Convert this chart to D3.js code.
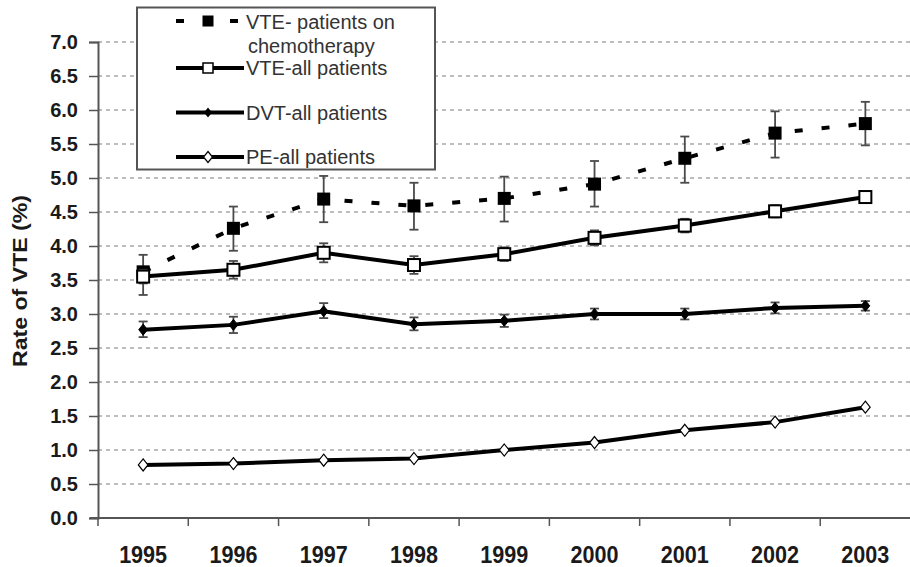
<!DOCTYPE html>
<html>
<head>
<meta charset="utf-8">
<script src="https://cdn.jsdelivr.net/npm/d3@7/dist/d3.min.js"></script>
<style>
  html, body { margin: 0; padding: 0; background: #fff; }
  svg { display: block; font-family: "Liberation Sans", Arial, sans-serif; }
</style>
</head>
<body>
<svg id="chart" width="910" height="567"></svg>
<script>
// ---------- data ----------
const years = ["1995","1996","1997","1998","1999","2000","2001","2002","2003"];
const yTicks = [0,0.5,1,1.5,2,2.5,3,3.5,4,4.5,5,5.5,6,6.5,7];

const chemo   = [3.62, 4.26, 4.69, 4.59, 4.70, 4.91, 5.29, 5.66, 5.80];
const chemoLo = [3.28, 3.93, 4.35, 4.24, 4.36, 4.58, 4.93, 5.30, 5.48];
const chemoHi = [3.87, 4.58, 5.03, 4.93, 5.02, 5.25, 5.61, 5.98, 6.12];

const vteAll   = [3.55, 3.65, 3.90, 3.72, 3.88, 4.12, 4.30, 4.51, 4.72];
const vteAllLo = [3.45, 3.52, 3.76, 3.59, 3.78, 4.01, 4.20, 4.42, 4.64];
const vteAllHi = [3.65, 3.78, 4.04, 3.85, 3.98, 4.23, 4.40, 4.60, 4.80];

const dvt   = [2.77, 2.84, 3.04, 2.85, 2.90, 3.00, 3.00, 3.09, 3.12];
const dvtLo = [2.66, 2.72, 2.94, 2.76, 2.81, 2.92, 2.92, 3.01, 3.05];
const dvtHi = [2.89, 2.96, 3.16, 2.95, 2.99, 3.08, 3.08, 3.17, 3.19];

const pe = [0.78, 0.80, 0.85, 0.875, 1.00, 1.11, 1.29, 1.41, 1.63];

const legendLabels = [["VTE- patients on", "chemotherapy"], ["VTE-all patients"], ["DVT-all patients"], ["PE-all patients"]];
const yTitle = "Rate of VTE (%)";

// ---------- layout ----------
const svg = d3.select("#chart");
const plotL = 98, plotR = 910.5, plotT = 42, plotB = 518;

const x = d3.scaleBand().domain(years).range([plotL, plotR]).padding(0);
const cx = d => x(d) + x.bandwidth() / 2;
const y = d3.scaleLinear().domain([0, 7]).range([plotB, plotT]);

// gridlines
svg.append("g").selectAll("line")
  .data(yTicks.filter(t => t > 0))
  .join("line")
  .attr("x1", plotL).attr("x2", 910)
  .attr("y1", d => y(d)).attr("y2", d => y(d))
  .attr("stroke", "#a8a8a8").attr("stroke-width", 1.5)
  .attr("stroke-dasharray", "4,4");

// y axis
const yAxis = d3.axisLeft(y).tickValues(yTicks).tickFormat(d3.format(".1f")).tickSize(9).tickPadding(11);
const gy = svg.append("g").attr("transform", `translate(${plotL},0)`).call(yAxis);
gy.select(".domain").attr("stroke", "#555").attr("stroke-width", 2);
gy.selectAll(".tick line").attr("stroke", "#555").attr("stroke-width", 1.5);
gy.selectAll(".tick text")
  .attr("font-size", 20).attr("font-weight", "bold").attr("fill", "#1a1a1a")
  .attr("font-family", "'Liberation Sans', Arial, sans-serif");

// x axis
svg.append("line").attr("x1", plotL - 8).attr("x2", 910).attr("y1", plotB).attr("y2", plotB)
  .attr("stroke", "#555").attr("stroke-width", 2);
svg.append("g").selectAll("line")
  .data(years)
  .join("line")
  .attr("x1", d => x(d)).attr("x2", d => x(d))
  .attr("y1", plotB).attr("y2", plotB + 8)
  .attr("stroke", "#555").attr("stroke-width", 1.5);
svg.append("g").selectAll("text")
  .data(years)
  .join("text")
  .attr("x", d => cx(d)).attr("y", 563)
  .attr("text-anchor", "middle")
  .attr("font-size", 23).attr("font-weight", "bold").attr("fill", "#1a1a1a")
  .attr("textLength", 48).attr("lengthAdjust", "spacingAndGlyphs")
  .text(d => d);

// y title
svg.append("text")
  .attr("transform", "translate(27,281) rotate(-90)")
  .attr("text-anchor", "middle")
  .attr("font-size", 20).attr("font-weight", "bold").attr("fill", "#1a1a1a")
  .attr("textLength", 172).attr("lengthAdjust", "spacingAndGlyphs")
  .text(yTitle);

// ---------- series helpers ----------
function errorBars(vals, lo, hi) {
  const g = svg.append("g").attr("stroke", "#4a4a4a").attr("stroke-width", 1.8);
  years.forEach((yr, i) => {
    const px = cx(yr);
    g.append("line").attr("x1", px).attr("x2", px).attr("y1", y(hi[i])).attr("y2", y(lo[i]));
    g.append("line").attr("x1", px - 4.5).attr("x2", px + 4.5).attr("y1", y(hi[i])).attr("y2", y(hi[i]));
    g.append("line").attr("x1", px - 4.5).attr("x2", px + 4.5).attr("y1", y(lo[i])).attr("y2", y(lo[i]));
  });
}
const line = d3.line().x((d, i) => cx(years[i])).y(d => y(d));

function path(vals, dash) {
  svg.append("path").datum(vals)
    .attr("d", line)
    .attr("fill", "none").attr("stroke", "#000").attr("stroke-width", 4)
    .attr("stroke-dasharray", dash || null);
}
function squares(vals, fill, size) {
  svg.append("g").selectAll("rect").data(vals).join("rect")
    .attr("x", (d, i) => cx(years[i]) - size / 2)
    .attr("y", d => y(d) - size / 2)
    .attr("width", size).attr("height", size)
    .attr("fill", fill).attr("stroke", "#000").attr("stroke-width", 2);
}
function diamonds(vals, fill, r, sw) {
  svg.append("g").selectAll("path").data(vals).join("path")
    .attr("d", (d, i) => {
      const px = cx(years[i]), py = y(d);
      return `M${px},${py - r}L${px + r * 0.8},${py}L${px},${py + r}L${px - r * 0.8},${py}Z`;
    })
    .attr("fill", fill).attr("stroke", "#000").attr("stroke-width", sw);
}

// chemotherapy series (drawn first, beneath)
errorBars(chemo, chemoLo, chemoHi);
path(chemo, "8,19");
squares(chemo, "#000", 11);

// VTE-all
errorBars(vteAll, vteAllLo, vteAllHi);
path(vteAll);
squares(vteAll, "#fff", 12);

// DVT-all
errorBars(dvt, dvtLo, dvtHi);
path(dvt);
diamonds(dvt, "#000", 5.5, 1);

// PE-all
path(pe);
diamonds(pe, "#fff", 6, 1.2);

// ---------- legend ----------
const lg = svg.append("g");
lg.append("rect").attr("x", 137).attr("y", 7.5).attr("width", 298).attr("height", 162)
  .attr("fill", "#fff").attr("stroke", "#555").attr("stroke-width", 2);

const lx1 = 176, lx2 = 244, lmx = 208, tx = 246;
// entry 1: chemo
lg.append("line").attr("x1", lx1).attr("x2", lx2).attr("y1", 21).attr("y2", 21)
  .attr("stroke", "#000").attr("stroke-width", 4).attr("stroke-dasharray", "8,19");
lg.append("rect").attr("x", lmx - 5).attr("y", 16).attr("width", 10).attr("height", 10)
  .attr("fill", "#000").attr("stroke", "#000").attr("stroke-width", 1);
// entry 2: VTE-all
lg.append("line").attr("x1", lx1).attr("x2", lx2).attr("y1", 68).attr("y2", 68)
  .attr("stroke", "#000").attr("stroke-width", 4);
lg.append("rect").attr("x", lmx - 5).attr("y", 63).attr("width", 10).attr("height", 10)
  .attr("fill", "#fff").attr("stroke", "#000").attr("stroke-width", 1.5);
// entry 3: DVT
lg.append("line").attr("x1", lx1).attr("x2", lx2).attr("y1", 112.5).attr("y2", 112.5)
  .attr("stroke", "#000").attr("stroke-width", 4);
lg.append("path").attr("d", `M${lmx},${112.5 - 5}L${lmx + 4},112.5L${lmx},${112.5 + 5}L${lmx - 4},112.5Z`)
  .attr("fill", "#000");
// entry 4: PE
lg.append("line").attr("x1", lx1).attr("x2", lx2).attr("y1", 157).attr("y2", 157)
  .attr("stroke", "#000").attr("stroke-width", 4);
lg.append("path").attr("d", `M${lmx},${157 - 5.5}L${lmx + 4.5},157L${lmx},${157 + 5.5}L${lmx - 4.5},157Z`)
  .attr("fill", "#fff").attr("stroke", "#000").attr("stroke-width", 1.2);

const textYs = [[29, 53], [75], [120], [164]];
legendLabels.forEach((lines, i) => {
  lines.forEach((t, j) => {
    lg.append("text").attr("x", tx + (j ? 2 : 0)).attr("y", textYs[i][j])
      .attr("font-size", 20).attr("fill", "#333").text(t);
  });
});
</script>
</body>
</html>
